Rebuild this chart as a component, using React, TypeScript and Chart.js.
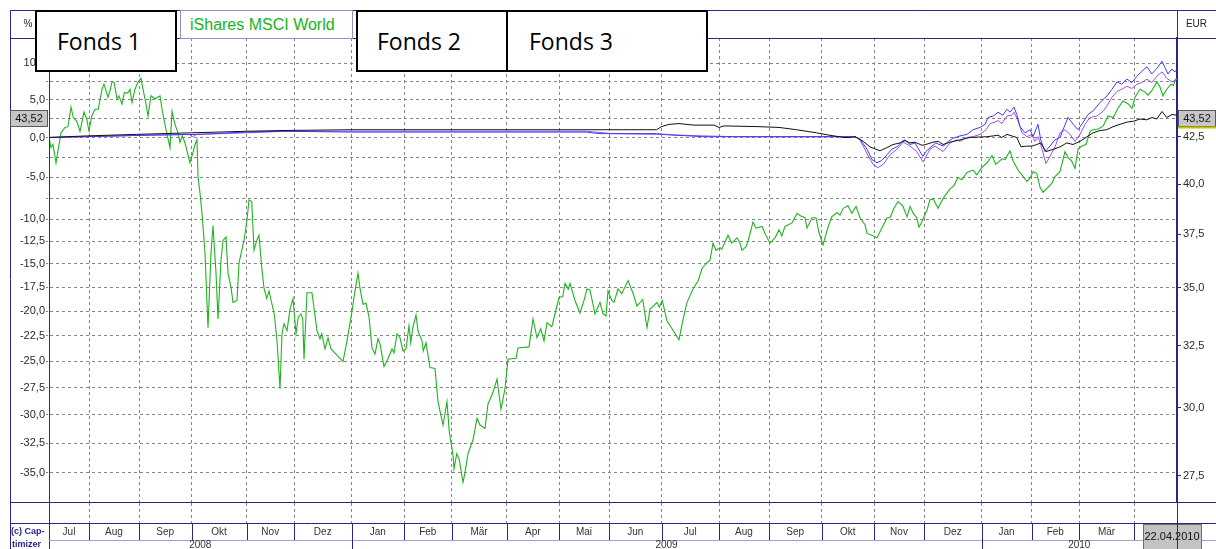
import React, { useEffect, useRef } from 'react';
import { Chart, registerables } from 'chart.js';

Chart.register(...registerables);

// ---------- data ----------
const seriesNames = ['Fonds 1', 'iShares MSCI World', 'Fonds 2', 'Fonds 3'];

// x values are trading-day indices since the start (early July 2008)
const monthLabels = ['Jul', 'Aug', 'Sep', 'Okt', 'Nov', 'Dez', 'Jan', 'Feb', 'Mär', 'Apr', 'Mai', 'Jun',
  'Jul', 'Aug', 'Sep', 'Okt', 'Nov', 'Dez', 'Jan', 'Feb', 'Mär'];
const monthBounds = [0, 16, 36, 57, 79, 98, 121, 142, 161, 183, 204, 224, 245, 268, 288, 309, 330, 350, 373, 393, 412, 434];
const lastDay = 451.2;
const yearLabels = ['2008', '2009', '2010'];
const yearBounds = [0, 121, 373];

const pctTicks = [10, 7.5, 5, 2.5, 0, -2.5, -5, -7.5, -10, -12.5, -15, -17.5, -20, -22.5, -25, -27.5, -30, -32.5, -35];
const pctUnlabeled = [7.5, 2.5, -2.5, -7.5];
const eurTicks = [42.5, 40, 37.5, 35, 32.5, 30, 27.5];
const basePrice = 42.47;
const lastPrice = 43.52;
const lastDate = '22.04.2010';
const factorMax = 1.1364;
const factorMin = 0.6259;

// [trading day, % change]
const msciWorld: [number, number][] = [
  [0, 0], [0.8, -1.3], [1.6, -0.9], [2.8, -3.2], [3.7, -1.5], [4.8, 0.6], [6.4, 1.3], [7.6, 1.4], [8.8, 4.0], [9.7, 2.6],
  [11.1, 2.1], [12.4, 0.8], [14.0, 3.3], [15.1, 2.4], [16.0, 0.8], [17.1, 2.8], [18.4, 3.7], [19.7, 3.7], [21.2, 6.4], [22.0, 7.1],
  [23.6, 5.3], [24.4, 6.2], [25.2, 7.4], [26.0, 7.4], [27.2, 5.1], [28.0, 5.5], [29.2, 4.4], [30.1, 5.9], [31.5, 5.9], [32.4, 6.4],
  [33.2, 4.6], [34.4, 6.4], [35.6, 7.4], [36.8, 7.9], [37.6, 6.4], [38.8, 4.4], [39.6, 2.8], [40.8, 5.5], [42.4, 5.1], [44.4, 5.5],
  [45.3, 3.5], [46.8, 1.0], [48.4, -1.3], [49.2, 3.4], [50.4, 1.7], [51.6, 0.6], [52.4, -0.6], [53.3, 0.2], [54.4, -0.7], [55.6, -2.2],
  [56.4, -3.2], [57.6, -1.9], [58.4, -0.9], [59.2, -0.3], [59.6, -4.9], [60.4, -6.9], [61.2, -9.3], [62.4, -13.8], [63.6, -21.7], [64.8, -13.8],
  [65.6, -10.7], [66.8, -16.0], [67.6, -20.8], [68.8, -14.6], [69.6, -12.4], [70.8, -12.0], [71.6, -16.0], [72.8, -17.5], [73.6, -19.1], [75.2, -18.9],
  [76.0, -14.9], [77.1, -13.5], [78.0, -12.4], [79.2, -10.1], [80.0, -7.7], [81.1, -7.9], [82.0, -13.5], [83.1, -12.4], [84.0, -11.8], [85.1, -15.4],
  [86.0, -17.6], [87.1, -18.7], [88.0, -17.9], [89.2, -19.3], [90.1, -20.3], [91.2, -23.0], [92.4, -27.6], [93.2, -22.3], [94.0, -21.3], [95.2, -22.0],
  [96.4, -19.8], [97.6, -18.7], [98.8, -22.3], [99.7, -20.6], [100.8, -20.3], [101.5, -20.8], [102.0, -24.8], [103.2, -18.1], [105.2, -18.1], [105.6, -18.9],
  [107.2, -22.0], [108.4, -22.8], [109.1, -22.3], [110.4, -23.8], [111.6, -22.7], [112.8, -23.8], [114.4, -24.2], [117.6, -25.0], [119.2, -23.0], [121.2, -20.0],
  [122.4, -17.9], [123.6, -16.0], [124.4, -17.6], [125.6, -19.3], [126.8, -19.2], [128.0, -20.6], [129.2, -23.7], [130.4, -24.3], [131.6, -22.8], [132.4, -23.3],
  [134.0, -25.5], [135.7, -24.7], [137.2, -23.8], [138.0, -24.2], [139.2, -22.3], [140.4, -22.7], [141.6, -24.0], [142.8, -23.8], [144.0, -21.5], [144.7, -23.2],
  [145.5, -21.7], [146.8, -20.4], [147.6, -22.0], [149.2, -23.0], [149.7, -24.0], [150.8, -23.2], [152.4, -25.6], [154.4, -25.7], [155.6, -28.8], [157.6, -30.9],
  [159.2, -28.8], [160.1, -31.5], [161.6, -33.5], [162.0, -34.7], [163.1, -33.4], [164.1, -33.9], [165.6, -35.8], [166.4, -35.0], [167.6, -33.4], [169.6, -32.2],
  [171.2, -30.3], [172.4, -30.9], [174.4, -31.2], [175.6, -29.0], [177.5, -28.0], [179.2, -26.7], [180.8, -29.5], [182.4, -27.6], [183.6, -24.8], [186.8, -24.7],
  [187.6, -23.7], [192.0, -23.6], [193.6, -20.8], [195.2, -22.7], [196.7, -21.8], [198.0, -23.0], [199.2, -21.2], [201.1, -21.6], [202.4, -20.3], [204.0, -18.6],
  [205.5, -18.5], [206.4, -17.1], [207.7, -17.7], [208.4, -17.1], [210.4, -18.9], [212.4, -20.2], [214.0, -18.9], [215.2, -17.7], [216.4, -17.8], [218.4, -20.3],
  [220.4, -19.1], [221.6, -20.3], [222.8, -20.5], [223.6, -17.9], [225.1, -18.9], [226.0, -19.1], [227.6, -17.7], [229.1, -18.2], [231.6, -16.8], [233.7, -18.2],
  [235.2, -19.5], [237.5, -18.8], [239.2, -21.7], [240.4, -19.8], [243.2, -19.1], [244.1, -19.6], [245.3, -18.9], [247.2, -21.0], [249.7, -22.0], [252.0, -22.9],
  [253.5, -21.0], [255.2, -19.1], [257.6, -17.7], [259.7, -16.8], [261.2, -15.5], [263.1, -14.9], [264.4, -14.6], [265.6, -12.7], [266.8, -13.5], [268.4, -13.2],
  [269.1, -13.4], [271.6, -11.8], [273.1, -12.7], [275.2, -12.1], [276.4, -12.7], [277.2, -13.5], [278.8, -13.1], [279.7, -12.4], [281.6, -10.3], [282.8, -11.0],
  [285.2, -10.8], [286.4, -11.6], [288.4, -12.7], [290.4, -12.1], [292.0, -11.2], [293.1, -11.9], [294.4, -10.8], [297.2, -10.4], [299.2, -9.3], [300.7, -9.6],
  [302.4, -9.8], [303.2, -11.0], [305.2, -9.8], [306.8, -9.8], [308.0, -11.5], [309.6, -12.9], [311.6, -10.9], [313.1, -9.7], [315.2, -9.2], [316.4, -9.5],
  [317.7, -8.7], [319.6, -8.4], [321.1, -9.3], [322.8, -8.5], [324.4, -9.8], [326.4, -10.6], [327.2, -11.6], [329.1, -11.8], [331.2, -12.1], [333.1, -11.0],
  [335.2, -9.8], [336.4, -9.8], [338.0, -8.7], [339.6, -7.9], [341.5, -8.4], [343.2, -9.7], [344.4, -8.5], [345.7, -9.3], [347.1, -9.8], [348.0, -10.9],
  [349.1, -10.3], [351.2, -8.9], [352.4, -7.7], [353.7, -7.6], [355.6, -8.7], [357.7, -7.5], [360.4, -6.4], [362.0, -6.0], [363.6, -5.0], [365.1, -5.3],
  [367.2, -4.4], [369.6, -4.1], [371.1, -4.7], [373.1, -3.8], [375.2, -3.2], [377.2, -2.3], [378.7, -3.4], [381.2, -2.7], [382.4, -2.8], [384.4, -1.7],
  [385.7, -3.0], [387.6, -4.1], [389.7, -4.9], [391.2, -5.5], [392.4, -5.1], [393.6, -4.3], [395.1, -4.5], [396.4, -6.2], [397.6, -6.8], [399.3, -6.3],
  [401.2, -5.7], [402.4, -4.9], [404.4, -4.3], [406.4, -1.8], [407.7, -2.6], [409.1, -3.0], [410.4, -3.9], [411.6, -1.5], [413.1, -1.1], [414.8, -0.9],
  [416.4, 0.8], [417.6, 1.0], [419.7, 1.1], [421.7, 1.5], [423.6, 2.8], [425.7, 2.6], [427.7, 3.9], [429.6, 4.8], [431.7, 4.4], [433.2, 3.8],
  [434.4, 5.3], [436.4, 6.4], [438.4, 6.0], [439.6, 5.6], [441.1, 6.2], [443.2, 7.4], [444.4, 6.7], [445.6, 5.5], [447.1, 6.4], [448.8, 7.1],
  [449.7, 6.9], [450.8, 7.9],
];

const fonds1: [number, number][] = [
  [0, 0], [15, 0.2], [35, 0.4], [57, 0.6], [79, 0.8], [94, 0.9], [121, 1.0], [243, 1.0], [245, 1.4], [248, 1.7],
  [252, 1.8], [258, 1.6], [266, 1.6], [268, 1.3], [270, 1.5], [284, 1.4], [292, 1.3], [299, 1.0], [307, 0.6], [312, 0.3],
  [318, 0.0], [320.4, 0.0], [322.4, 0.1], [325.7, -0.5], [328.4, -1.2], [332.4, -1.7], [335.1, -1.3], [337.6, -0.9], [340.4, -0.7], [342.4, -0.4],
  [344.4, -0.7], [346.4, -0.6], [349.2, -1.0], [350.7, -0.9], [353.6, -0.6], [355.7, -0.5], [357.6, -0.9], [360.4, -0.6], [363.2, -0.4], [365.7, -0.2],
  [368.4, 0.0], [375.2, 0.1], [377.7, 0.2], [379.6, 0.3], [381.1, 0.0], [383.2, 0.4], [385.1, 0.2], [387.1, 0.0], [388.8, -1.2], [391.1, -1.1],
  [393.2, -1.1], [395.1, -0.9], [396.7, -0.7], [398.8, -1.8], [401.7, -1.5], [404.4, -1.2], [407.1, -0.7], [409.6, -0.9], [412.4, -0.5], [415.2, 0.1],
  [417.6, 0.6], [420.4, 0.9], [423.1, 1.0], [425.6, 1.4], [428.4, 1.7], [431.2, 2.0], [433.7, 2.1], [436.4, 2.4], [439.1, 2.3], [441.2, 2.6],
  [443.1, 2.4], [445.2, 3.4], [447.1, 2.6], [449.2, 3.0], [451.2, 2.9],
];

const fonds2: [number, number][] = [
  [0, 0], [15, 0.1], [40, 0.3], [60, 0.4], [79, 0.7], [94, 0.8], [121, 0.7], [215, 0.7], [220, 0.5], [243, 0.5],
  [250, 0.3], [262, 0.1], [320, 0.1], [322.4, 0.1], [324.4, -0.2], [327.2, -1.5], [329.2, -2.8], [331.2, -3.2], [333.1, -2.9], [335.2, -2.2],
  [337.1, -1.5], [339.2, -1.2], [341.2, -0.5], [342.4, -0.3], [344.4, -0.9], [346.4, -0.7], [348.4, -1.8], [349.6, -2.4], [350.7, -1.8], [352.8, -1.2],
  [354.7, -0.7], [357.7, -1.1], [359.7, -0.5], [361.6, -0.1], [364.4, 0.2], [367.2, 0.4], [369.6, 1.0], [372.4, 1.3], [374.4, 1.7], [375.6, 2.6],
  [377.7, 2.8], [379.6, 3.3], [381.5, 2.9], [383.2, 3.7], [384.4, 3.3], [386.0, 4.0], [387.1, 3.0], [388.4, 1.4], [390.4, 0.6], [392.4, 1.0],
  [393.6, 0.1], [395.6, 1.7], [396.7, -0.3], [398.4, -1.8], [400.4, -1.1], [402.4, -0.3], [404.4, 0.0], [405.6, 1.0], [407.6, 2.6], [409.7, 1.7],
  [411.6, 1.0], [413.5, 1.9], [415.6, 3.0], [417.7, 3.5], [420.4, 4.6], [423.2, 5.5], [425.2, 6.4], [427.2, 7.4], [429.1, 7.1], [431.2, 7.8],
  [433.1, 7.3], [435.2, 8.2], [437.2, 8.9], [439.2, 9.5], [441.1, 8.5], [443.2, 9.3], [445.2, 10.3], [446.4, 9.4], [447.6, 8.5], [449.1, 9.2],
  [450.4, 8.8], [451.2, 9.2],
];

const fonds3: [number, number][] = [
  [0, 0], [15, 0.1], [40, 0.3], [56, 0.4], [57.5, 0.1], [59, 0.4], [79, 0.6], [94, 0.8], [121, 0.8], [215, 0.8],
  [225, 0.5], [243, 0.4], [262, 0.2], [275, 0.1], [320, 0.1], [322.4, 0.1], [324.4, -0.3], [327.1, -2.0], [329.6, -3.4], [331.6, -3.8],
  [333.7, -3.4], [336.4, -2.2], [339.2, -1.5], [341.7, -0.6], [344.4, -1.1], [347.1, -1.8], [349.6, -3.1], [352.4, -1.5], [354.4, -1.1], [357.6, -1.8],
  [360.4, -0.7], [363.1, -0.3], [364.4, -0.5], [367.1, 0.0], [369.6, 0.1], [372.4, 0.4], [374.8, 1.0], [376.4, 1.8], [378.4, 2.0], [379.6, 2.2],
  [381.1, 1.8], [383.2, 2.8], [385.1, 2.9], [386.0, 3.3], [387.7, 2.1], [389.2, 0.6], [391.2, 0.1], [393.1, 0.4], [394.4, -0.5], [395.7, 0.1],
  [397.2, -1.5], [398.8, -3.3], [400.4, -2.4], [402.4, -1.2], [404.4, 0.6], [406.4, 1.0], [408.4, 0.4], [410.4, -0.5], [412.4, 0.4], [414.4, 1.7],
  [416.4, 2.6], [419.1, 2.8], [421.6, 3.4], [423.1, 4.1], [425.2, 5.3], [427.2, 6.1], [429.1, 6.4], [431.2, 6.8], [433.1, 6.5], [435.2, 7.1],
  [437.1, 7.3], [439.2, 7.8], [441.1, 7.3], [443.2, 8.2], [445.2, 8.8], [447.1, 7.9], [449.2, 7.4], [451.2, 7.8],
];

// ---------- helpers ----------
const FONT = '"Liberation Sans", Arial, sans-serif';
const NARROW = '"Liberation Sans Narrow", "Liberation Sans", Arial, sans-serif';
const NAVY = '#27278a';
const GRID = '#858585';

const toFactor = (s: [number, number][]) => s.map(([d, p]) => ({ x: d, y: 1 + p / 100 }));
const fmt = (v: number, digits = 1) => v.toFixed(digits).replace('.', ',');

const decor = {
  id: 'decor',
  afterDraw(chart: any) {
    const { ctx, chartArea: a, scales } = chart;
    const xs = scales.x;
    const y2 = scales.y2;
    const W = chart.width;
    const H = chart.height;
    const L = 10;
    const T = 10;
    const hl = (x1: number, x2: number, y: number, c = NAVY, w = 1) => {
      ctx.beginPath(); ctx.strokeStyle = c; ctx.lineWidth = w; ctx.setLineDash([]);
      ctx.moveTo(x1, y); ctx.lineTo(x2, y); ctx.stroke();
    };
    const vl = (x: number, y1: number, yb: number, c = NAVY, w = 1) => {
      ctx.beginPath(); ctx.strokeStyle = c; ctx.lineWidth = w; ctx.setLineDash([]);
      ctx.moveTo(x, y1); ctx.lineTo(x, yb); ctx.stroke();
    };
    const px = (v: number) => Math.round(xs.getPixelForValue(v)) + 0.5;
    ctx.save();
    // frame & header
    hl(L, W, T + 0.5);
    hl(L, W, a.top + 0.5);
    vl(L + 0.5, T, H);
    vl(a.left + 0.5, a.top, H);
    vl(Math.round(a.right) + 0.5, T, a.top);
    hl(L, W, a.bottom + 0.5);
    const monthTop = a.bottom + 21;
    const yearTop = monthTop + 17;
    hl(L, W, monthTop + 0.5);
    hl(a.left, W, yearTop + 0.5, '#a0a0d0');

    ctx.fillStyle = '#222';
    ctx.textBaseline = 'middle';
    ctx.textAlign = 'center';
    ctx.font = `10px ${FONT}`;
    ctx.fillText('%', 28, 24);
    ctx.fillText('EUR', (a.right + W) / 2, 24);

    // month row
    ctx.fillStyle = '#333';
    for (let i = 0; i < monthBounds.length; i++) {
      const x0 = xs.getPixelForValue(monthBounds[i]);
      const x1 = xs.getPixelForValue(i + 1 < monthBounds.length ? monthBounds[i + 1] : lastDay);
      if (i > 0) vl(px(monthBounds[i]), monthTop, yearTop);
      if (monthLabels[i]) ctx.fillText(monthLabels[i], (x0 + x1) / 2, monthTop + 9);
    }
    // year row
    for (let i = 0; i < yearBounds.length; i++) {
      const x0 = xs.getPixelForValue(yearBounds[i]);
      const x1 = xs.getPixelForValue(i + 1 < yearBounds.length ? yearBounds[i + 1] : lastDay);
      if (i > 0) vl(px(yearBounds[i]), monthTop, H);
      ctx.fillStyle = '#333';
      ctx.fillText(yearLabels[i], (x0 + x1) / 2, yearTop + 5.5);
    }
    // copyright
    ctx.textAlign = 'left';
    ctx.fillStyle = NAVY;
    ctx.font = `bold 9px ${FONT}`;
    ctx.fillText('(c) Cap-', 11, monthTop + 9);
    ctx.fillText('timizer', 12, yearTop + 5);

    // date box
    const cx = xs.getPixelForValue(lastDay) - 5;
    ctx.fillStyle = '#c3c3c3';
    ctx.fillRect(cx - 29, monthTop + 1, 58, H - monthTop);
    ctx.strokeStyle = '#6e6e6e';
    ctx.lineWidth = 1;
    ctx.strokeRect(Math.round(cx - 29) + 0.5, monthTop + 1.5, 58, H - monthTop);
    ctx.fillStyle = '#111';
    ctx.textAlign = 'center';
    ctx.font = `11px ${FONT}`;
    ctx.fillText(lastDate, cx, monthTop + 14);
    vl(Math.round(a.right) + 0.5, a.bottom, H, NAVY, 1);

    // last price boxes
    const yp = Math.round(y2.getPixelForValue(lastPrice));
    const boxes = [[L, a.left - 1], [a.right + 1, W]];
    ctx.font = `11px ${FONT}`;
    boxes.forEach(([b0, b1]) => {
      ctx.fillStyle = '#c6c6c6';
      ctx.fillRect(b0, yp - 8, b1 - b0, 16);
      ctx.strokeStyle = '#5a5a5a';
      ctx.strokeRect(b0 + 0.5, yp - 7.5, b1 - b0 - 1, 16);
      ctx.fillStyle = '#111';
      ctx.fillText(fmt(lastPrice, 2), (b0 + b1) / 2, yp + 0.5);
    });
    hl(a.right + 1, W, yp + 9.5, '#d2bd00', 2);
    ctx.restore();
  },
};

export default function App() {
  const ref = useRef<HTMLCanvasElement | null>(null);

  useEffect(() => {
    if (!ref.current) return;
    const line = (label: string, data: [number, number][], color: string, width = 1) => ({
      label,
      data: toFactor(data),
      borderColor: color,
      backgroundColor: color,
      borderWidth: width,
      pointRadius: 0,
      tension: 0,
      fill: false,
      xAxisID: 'x',
      yAxisID: 'y',
    });
    const chart = new Chart(ref.current, {
      type: 'line',
      data: {
        datasets: [
          line(seriesNames[0], fonds1, '#111111'),
          line(seriesNames[2], fonds2, '#3c3cff'),
          line(seriesNames[3], fonds3, '#a24df2'),
          line(seriesNames[1], msciWorld, '#1fb41f', 1.1),
        ],
      },
      options: {
        responsive: false,
        animation: false,
        devicePixelRatio: 1,
        layout: { padding: { left: 10, top: 38, right: 0, bottom: 0 } },
        plugins: { legend: { display: false }, tooltip: { enabled: false }, title: { display: false } },
        scales: {
          x: {
            type: 'linear',
            min: 0,
            max: lastDay,
            afterFit: (s: any) => { s.height = 47; },
            afterBuildTicks: (s: any) => { s.ticks = monthBounds.slice(1).map((v) => ({ value: v })); },
            ticks: { display: false },
            grid: { color: GRID, lineWidth: 1, tickLength: 21, tickColor: GRID, tickBorderDash: [3, 3] },
            border: { display: true, color: NAVY, width: 1, dash: [3, 3] },
          },
          y: {
            type: 'logarithmic',
            position: 'left',
            min: factorMin,
            max: factorMax,
            afterFit: (s: any) => { s.width = 39; },
            afterBuildTicks: (s: any) => { s.ticks = pctTicks.map((p) => ({ value: 1 + p / 100 })); },
            ticks: {
              autoSkip: false,
              padding: 1,
              color: '#2a2a2a',
              font: { size: 11, family: NARROW },
              callback: (v: any) => {
                const p = Math.round((Number(v) - 1) * 1000) / 10;
                return pctUnlabeled.includes(p) ? '' : fmt(p);
              },
            },
            grid: { color: GRID, lineWidth: 1, tickLength: 3, tickColor: GRID, tickBorderDash: [2, 2] },
            border: { display: true, color: NAVY, width: 1, dash: [3, 3] },
          },
          y2: {
            type: 'logarithmic',
            position: 'right',
            min: basePrice * factorMin,
            max: basePrice * factorMax,
            afterFit: (s: any) => { s.width = 39; },
            afterBuildTicks: (s: any) => { s.ticks = eurTicks.map((v) => ({ value: v })); },
            ticks: {
              autoSkip: false,
              padding: 2,
              color: '#2a2a2a',
              font: { size: 11, family: NARROW },
              callback: (v: any) => fmt(Number(v)),
            },
            grid: { drawOnChartArea: false, tickLength: 4, tickColor: NAVY },
            border: { display: true, color: NAVY, width: 2 },
          },
        },
      },
      plugins: [decor],
    } as any);
    return () => chart.destroy();
  }, []);

  const boxBase: React.CSSProperties = {
    position: 'absolute',
    top: 10,
    height: 62,
    boxSizing: 'border-box',
    border: '2px solid #000',
    background: '#fff',
    display: 'flex',
    alignItems: 'center',
    font: '23px "Open Sans", "Liberation Sans", sans-serif',
    color: '#000',
    whiteSpace: 'nowrap',
  };

  return (
    <div style={{ position: 'fixed', left: 0, top: 0, width: 1216, height: 549, background: '#fff', overflow: 'hidden' }}>
      <canvas ref={ref} width={1216} height={549} style={{ position: 'absolute', left: 0, top: 0, width: 1216, height: 549 }} />
      <div style={{ ...boxBase, left: 35, width: 142, paddingLeft: 20 }}>{seriesNames[0]}</div>
      <div
        style={{
          position: 'absolute', left: 180, top: 10, width: 173, height: 29, boxSizing: 'border-box',
          border: '1px solid #9090c4', background: '#fff', color: '#19b319', display: 'flex', alignItems: 'center',
          paddingLeft: 9, font: `16px ${FONT}`, whiteSpace: 'nowrap',
        }}
      >
        {seriesNames[1]}
      </div>
      <div style={{ ...boxBase, left: 356, width: 152, paddingLeft: 19 }}>{seriesNames[2]}</div>
      <div style={{ ...boxBase, left: 506, width: 202, paddingLeft: 21 }}>{seriesNames[3]}</div>
    </div>
  );
}
